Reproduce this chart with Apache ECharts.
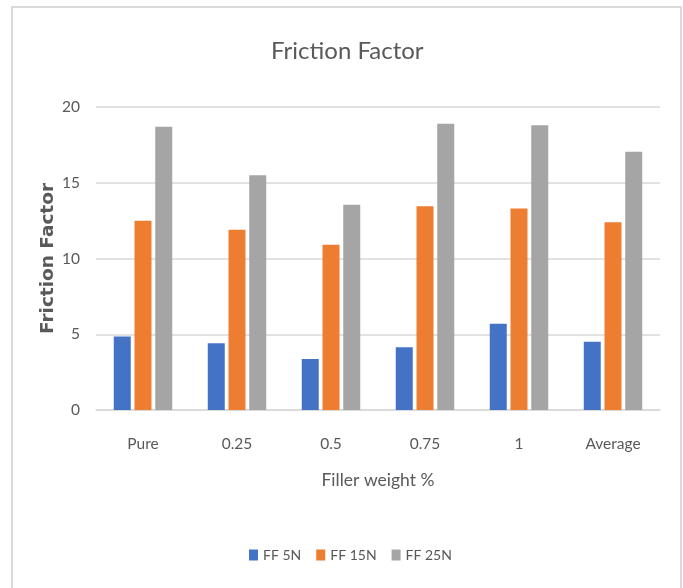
<!DOCTYPE html>
<html>
<head>
<meta charset="utf-8">
<title>Friction Factor</title>
<script src="https://cdn.jsdelivr.net/npm/echarts@6/dist/echarts.min.js"></script>
<style>
  html, body { margin: 0; padding: 0; background: #ffffff; }
  #chart { width: 683px; height: 588px; }
</style>
</head>
<body>
<div id="chart"></div>
<script>
// categories and values
const categories = ['Pure', '0.25', '0.5', '0.75', '1', 'Average'];
const ff5N = [4.85, 4.4, 3.37, 4.15, 5.7, 4.5];
const ff15N = [12.5, 11.9, 10.9, 13.45, 13.3, 12.4];
const ff25N = [18.7, 15.5, 13.55, 18.9, 18.8, 17.05];
const yTicks = [0, 5, 10, 15, 20];

const bodyFont = 'Lato, "DejaVu Sans Condensed", sans-serif';
const textColor = '#595959';

const chart = echarts.init(document.getElementById('chart'));

function barSeries(name, data, color) {
  return {
    name: name,
    type: 'bar',
    data: data,
    barWidth: 17,
    barGap: '22%',
    itemStyle: { color: color }
  };
}

const option = {
  backgroundColor: '#ffffff',
  animation: false,
  // chart area border like the office chart frame
  graphic: [{
    type: 'rect',
    shape: { x: 12, y: 7, width: 669, height: 600 },
    style: { fill: 'none', stroke: '#d9d9d9', lineWidth: 2 },
    silent: true
  }],
  title: {
    text: 'Friction Factor',
    left: 266,
    top: 34,
    textStyle: { fontFamily: bodyFont, fontSize: 24, fontWeight: 'normal', color: textColor }
  },
  legend: {
    left: 249,
    top: 548,
    padding: 0,
    itemWidth: 9,
    itemHeight: 11,
    itemGap: 15,
    itemTextGap: 3,
    icon: 'rect',
    textStyle: { fontFamily: bodyFont, fontSize: 14, color: textColor },
    data: ['FF 5N', 'FF 15N', 'FF 25N']
  },
  grid: { left: 96, right: 23, top: 107, bottom: 178 },
  xAxis: {
    type: 'category',
    data: categories,
    name: 'Filler weight %',
    nameLocation: 'middle',
    nameGap: 61,
    nameTextStyle: { fontFamily: bodyFont, fontSize: 17.5, color: textColor },
    axisLine: { lineStyle: { color: '#d9d9d9', width: 1.5 } },
    axisTick: { length: 7, lineStyle: { color: '#d9d9d9', width: 1.5 } },
    axisLabel: { fontFamily: bodyFont, fontSize: 15.5, color: textColor, margin: 26 }
  },
  yAxis: {
    type: 'value',
    min: yTicks[0],
    max: yTicks[yTicks.length - 1],
    interval: 5,
    name: 'Friction Factor',
    nameLocation: 'middle',
    nameGap: 38,
    nameMoveOverlap: false,
    nameTextStyle: { fontFamily: '"DejaVu Sans", sans-serif', fontSize: 18.5, fontWeight: 'bold', color: textColor },
    axisLine: { show: false },
    axisTick: { show: false },
    axisLabel: { fontFamily: bodyFont, fontSize: 15.5, color: textColor, margin: 16 },
    splitLine: { lineStyle: { color: '#d9d9d9', width: 1.5 } }
  },
  series: [
    barSeries('FF 5N', ff5N, '#4472c4'),
    barSeries('FF 15N', ff15N, '#ed7d31'),
    barSeries('FF 25N', ff25N, '#a5a5a5')
  ]
};

chart.setOption(option);
</script>
</body>
</html>
